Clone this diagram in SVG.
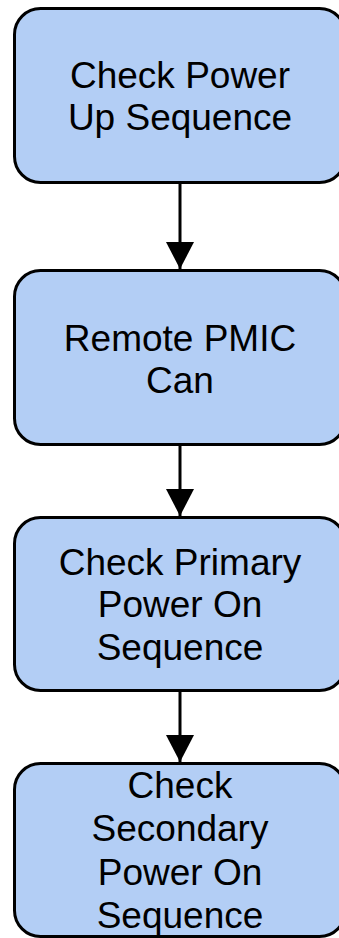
<svg xmlns="http://www.w3.org/2000/svg" width="339" height="938" viewBox="0 0 339 938">
  <style>
    .box { fill: #b3cef5; stroke: #000; stroke-width: 3; }
    .label { font-family: "Liberation Sans", Arial, sans-serif; font-size: 37px; fill: #000; text-anchor: middle; }
    .edge { stroke: #000; stroke-width: 3; fill: none; }
  </style>
  <defs>
    <marker id="arrow" markerUnits="userSpaceOnUse" markerWidth="28" markerHeight="28" viewBox="0 0 28 28" refX="27" refY="14" orient="auto">
      <polygon points="0,0 27,14 0,28" fill="#000"/>
    </marker>
  </defs>

  <g id="connectors">
    <line class="edge" x1="180" y1="183" x2="180" y2="269" marker-end="url(#arrow)"/>
    <line class="edge" x1="180" y1="445" x2="180" y2="516" marker-end="url(#arrow)"/>
    <line class="edge" x1="180" y1="691" x2="180" y2="762" marker-end="url(#arrow)"/>
  </g>

  <g id="node-power-up">
    <rect class="box" x="14.5" y="8.5" width="331" height="174" rx="26" ry="26"/>
    <text class="label" x="180" y="88">Check Power</text>
    <text class="label" x="180" y="130">Up Sequence</text>
  </g>

  <g id="node-remote-pmic">
    <rect class="box" x="14.5" y="270.5" width="331" height="174" rx="26" ry="26"/>
    <text class="label" x="180" y="351">Remote PMIC</text>
    <text class="label" x="180" y="393">Can</text>
  </g>

  <g id="node-primary">
    <rect class="box" x="14.5" y="517.5" width="331" height="173" rx="26" ry="26"/>
    <text class="label" x="180" y="575">Check Primary</text>
    <text class="label" x="180" y="617">Power On</text>
    <text class="label" x="180" y="660">Sequence</text>
  </g>

  <g id="node-secondary">
    <rect class="box" x="14.5" y="763.5" width="331" height="173" rx="26" ry="26"/>
    <text class="label" x="180" y="798">Check</text>
    <text class="label" x="180" y="841">Secondary</text>
    <text class="label" x="180" y="885">Power On</text>
    <text class="label" x="180" y="928">Sequence</text>
  </g>
</svg>
